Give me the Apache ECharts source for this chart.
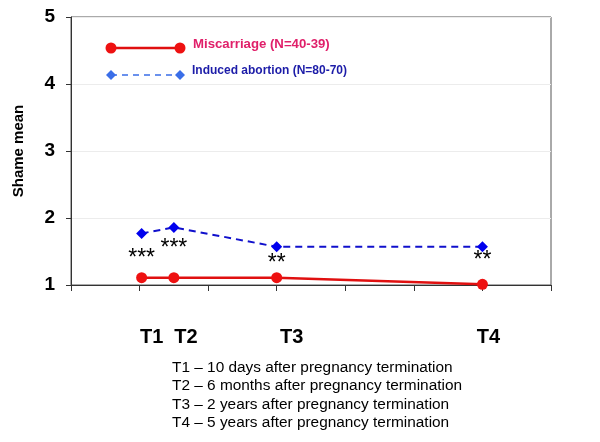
<!DOCTYPE html>
<html lang="en">
<head>
    <meta charset="utf-8">
    <title>Shame mean</title>
    <script src="https://cdn.jsdelivr.net/npm/echarts@6/dist/echarts.min.js"></script>
    <style>
        html, body { margin: 0; padding: 0; background: #fff; }
        #main { width: 600px; height: 442px; }
    </style>
</head>
<body>
<div id="main"></div>
<script type="text/javascript">
    // time points (years after termination + 1)
    var timeNames = ['T1', 'T2', 'T3', 'T4'];
    var timeX = [1.03, 1.5, 3, 6];
    var miscarriage = [1.11, 1.11, 1.11, 1.01];
    var induced = [1.77, 1.86, 1.57, 1.57];
    var sigMarks = ['***', '***', '**', '**'];
    var notes = [
        'T1 \u2013 10 days after pregnancy termination',
        'T2 \u2013 6 months after pregnancy termination',
        'T3 \u2013 2 years after pregnancy termination',
        'T4 \u2013 5 years after pregnancy termination'
    ];
    var yTicks = [1, 2, 3, 4, 5];

    var FONT = 'Arial, "Liberation Sans", sans-serif';
    var sigGap = [8, 4, 0, -3];
    var nameShift = [10, 12, 15, 6];

    function pairs(ys) {
        return timeX.map(function (x, i) { return [x, ys[i]]; });
    }

    var chart = echarts.init(document.getElementById('main'));

    chart.setOption({
        animation: false,
        grid: {
            left: 71, right: 49, top: 17, bottom: 157,
            show: true, borderColor: '#555', borderWidth: 1
        },
        xAxis: {
            type: 'value', min: 0, max: 7, interval: 1,
            axisLine: {lineStyle: {color: '#333', width: 1}},
            axisTick: {length: 6, lineStyle: {color: '#333'}},
            axisLabel: {show: false},
            splitLine: {show: false}
        },
        yAxis: {
            type: 'value', min: yTicks[0], max: yTicks[yTicks.length - 1], interval: 1,
            name: 'Shame mean', nameLocation: 'middle', nameGap: 45,
            nameTextStyle: {fontFamily: FONT, fontWeight: 'bold', fontSize: 15, color: '#000'},
            axisLine: {show: true, lineStyle: {color: '#333', width: 1}},
            axisTick: {show: true, length: 5, lineStyle: {color: '#333'}},
            axisLabel: {fontFamily: FONT, fontWeight: 'bold', fontSize: 19, color: '#000', margin: 16},
            splitLine: {lineStyle: {color: '#ececec'}}
        },
        series: [
            {
                name: 'Miscarriage (N=40-39)',
                type: 'line',
                data: pairs(miscarriage),
                symbol: 'circle', symbolSize: 11,
                itemStyle: {color: '#ee1111'},
                lineStyle: {color: '#e01010', width: 2.5},
                z: 3
            },
            {
                name: 'Induced abortion (N=80-70)',
                type: 'line',
                data: pairs(induced).map(function (p, i) {
                    return {
                        value: p,
                        label: {distance: sigGap[i]}
                    };
                }),
                symbol: 'diamond', symbolSize: 11,
                itemStyle: {color: '#0000ee'},
                lineStyle: {color: '#1010cc', width: 2, type: [7, 5]},
                label: {
                    show: true, position: 'bottom',
                    formatter: function (p) { return sigMarks[p.dataIndex]; },
                    fontFamily: FONT, fontSize: 23, color: '#000'
                },
                z: 2
            }
        ]
    });

    // T labels under the axis, legend keys and notes
    var g = [];
    timeNames.forEach(function (n, i) {
        var px = chart.convertToPixel({gridIndex: 0}, [timeX[i], 1])[0];
        g.push({
            type: 'text', x: px + nameShift[i], y: 337,
            style: {text: n, fontFamily: FONT, fontWeight: 'bold', fontSize: 20, fill: '#000',
                align: 'center', verticalAlign: 'middle'}
        });
    });
    g.push({
        type: 'text', left: 172, top: 358,
        style: {text: notes.join('\n'), fontFamily: FONT, fontSize: 15.4, lineHeight: 18.5, fill: '#000'}
    });
    // legend: miscarriage
    g.push({type: 'line', shape: {x1: 111, y1: 48, x2: 180, y2: 48}, style: {stroke: '#e01010', lineWidth: 2.5}});
    g.push({type: 'circle', shape: {cx: 111, cy: 48, r: 5.5}, style: {fill: '#ee1111'}});
    g.push({type: 'circle', shape: {cx: 180, cy: 48, r: 5.5}, style: {fill: '#ee1111'}});
    g.push({
        type: 'text', x: 193, y: 44,
        style: {text: 'Miscarriage (N=40-39)', fontFamily: FONT, fontWeight: 'bold', fontSize: 13.2,
            fill: '#e0206a', verticalAlign: 'middle'}
    });
    // legend: induced abortion
    g.push({type: 'line', shape: {x1: 111, y1: 75, x2: 180, y2: 75},
        style: {stroke: '#3a6ee8', lineWidth: 1.5, lineDash: [6, 5]}});
    g.push({type: 'polygon', shape: {points: [[111, 70], [116, 75], [111, 80], [106, 75]]}, style: {fill: '#3a6ee8'}});
    g.push({type: 'polygon', shape: {points: [[180, 70], [185, 75], [180, 80], [175, 75]]}, style: {fill: '#3a6ee8'}});
    g.push({
        type: 'text', x: 192, y: 71,
        style: {text: 'Induced abortion (N=80-70)', fontFamily: FONT, fontWeight: 'bold', fontSize: 12,
            fill: '#1c1ca8', verticalAlign: 'middle'}
    });
    chart.setOption({graphic: g});
</script>
</body>
</html>
